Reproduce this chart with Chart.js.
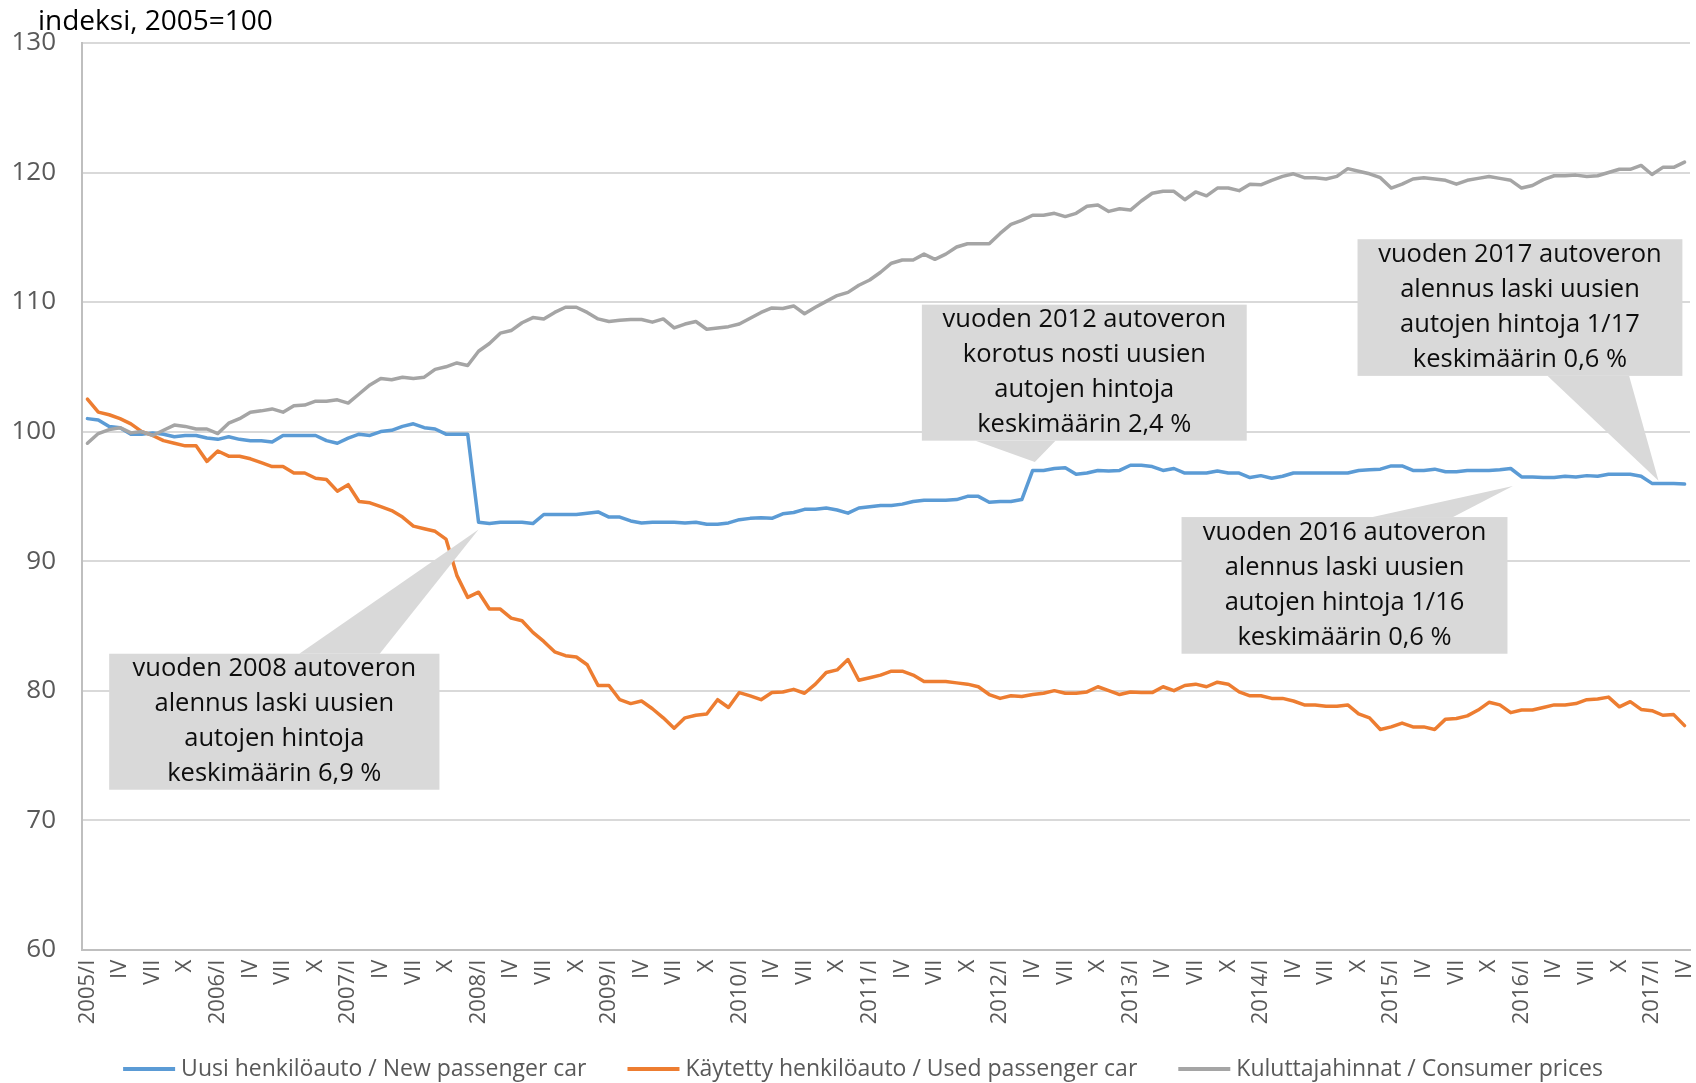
<!DOCTYPE html>
<html>
<head>
<meta charset="utf-8">
<script src="https://cdn.jsdelivr.net/npm/chart.js"></script>
<style>
  body { margin: 0; background: #fff; }
  #wrap { width: 1696px; height: 1083px; }
</style>
</head>
<body>
<div id="wrap"><canvas id="hinnat" width="1696" height="1083"></canvas></div>
<script>
// kuukausisarja 2005/I - 2017/IV
const vuodet = [2005, 2006, 2007, 2008, 2009, 2010, 2011, 2012, 2013, 2014, 2015, 2016, 2017];
const kuukaudet = ['I', 'II', 'III', 'IV', 'V', 'VI', 'VII', 'VIII', 'IX', 'X', 'XI', 'XII'];
const viimeinenKk = 4; // 2017 loppuu huhtikuuhun

const uusi = [
  101.0, 100.9, 100.4, 100.3, 99.8, 99.8, 99.9, 99.8, 99.6, 99.7, 99.7, 99.5,
  99.4, 99.6, 99.4, 99.3, 99.3, 99.2, 99.7, 99.7, 99.7, 99.7, 99.3, 99.1,
  99.5, 99.8, 99.7, 100.0, 100.1, 100.4, 100.6, 100.3, 100.2, 99.8, 99.8, 99.8,
  93.0, 92.9, 93.0, 93.0, 93.0, 92.9, 93.6, 93.6, 93.6, 93.6, 93.7, 93.8,
  93.4, 93.4, 93.1, 92.95, 93.0, 93.0, 93.0, 92.95, 93.0, 92.85, 92.85, 92.95,
  93.2, 93.3, 93.35, 93.3, 93.65, 93.75, 94.0, 94.0, 94.1, 93.95, 93.7, 94.1,
  94.2, 94.3, 94.3, 94.4, 94.6, 94.7, 94.7, 94.7, 94.75, 95.0, 95.0, 94.55,
  94.6, 94.6, 94.75, 97.0, 97.0, 97.15, 97.2, 96.7, 96.8, 97.0, 96.95, 97.0,
  97.4, 97.4, 97.3, 97.0, 97.15, 96.8, 96.8, 96.8, 96.95, 96.8, 96.8, 96.45,
  96.6, 96.4, 96.55, 96.8, 96.8, 96.8, 96.8, 96.8, 96.8, 97.0, 97.05, 97.1,
  97.35, 97.35, 97.0, 97.0, 97.1, 96.9, 96.9, 97.0, 97.0, 97.0, 97.05, 97.15,
  96.5, 96.5, 96.45, 96.45, 96.55, 96.5, 96.6, 96.55, 96.7, 96.7, 96.7, 96.55,
  96.0, 96.0, 96.0, 95.95
];

const kaytetty = [
  102.5, 101.5, 101.3, 101.0, 100.6, 100.0, 99.7, 99.3, 99.1, 98.9, 98.9, 97.7,
  98.5, 98.1, 98.1, 97.9, 97.6, 97.3, 97.3, 96.8, 96.8, 96.4, 96.3, 95.4,
  95.9, 94.6, 94.5, 94.2, 93.9, 93.4, 92.7, 92.5, 92.3, 91.7, 88.9, 87.2,
  87.6, 86.3, 86.3, 85.6, 85.4, 84.5, 83.8, 83.0, 82.7, 82.6, 82.0, 80.4,
  80.4, 79.3, 79.0, 79.2, 78.6, 77.9, 77.1, 77.9, 78.1, 78.2, 79.3, 78.7,
  79.85, 79.6, 79.3, 79.85, 79.9, 80.1, 79.8, 80.5, 81.4, 81.6, 82.4, 80.8,
  81.0, 81.2, 81.5, 81.5, 81.2, 80.7, 80.7, 80.7, 80.6, 80.5, 80.3, 79.7,
  79.4, 79.6, 79.55, 79.7, 79.8, 80.0, 79.8, 79.8, 79.9, 80.3, 80.0, 79.7,
  79.9, 79.85, 79.85, 80.3, 80.0, 80.4, 80.5, 80.3, 80.65, 80.5, 79.9, 79.6,
  79.6, 79.4, 79.4, 79.2, 78.9, 78.9, 78.8, 78.8, 78.9, 78.2, 77.9, 77.0,
  77.2, 77.5, 77.2, 77.2, 77.0, 77.8, 77.85, 78.05, 78.5, 79.1, 78.9, 78.3,
  78.5, 78.5, 78.7, 78.9, 78.9, 79.0, 79.3, 79.35, 79.5, 78.75, 79.15, 78.55,
  78.45, 78.1, 78.15, 77.3
];

const kuluttaja = [
  99.1, 99.85, 100.15, 100.3, 99.9, 100.0, 99.7, 100.1, 100.5, 100.4, 100.2, 100.2,
  99.85, 100.65, 101.0, 101.5, 101.6, 101.75, 101.5, 102.0, 102.05, 102.35, 102.35, 102.45,
  102.2, 102.9, 103.6, 104.1, 104.0, 104.2, 104.1, 104.2, 104.8, 105.0, 105.3, 105.1,
  106.2, 106.8, 107.6, 107.8, 108.4, 108.8, 108.7, 109.2, 109.6, 109.6, 109.2, 108.7,
  108.5, 108.6, 108.65, 108.65, 108.45, 108.7, 108.0, 108.3, 108.5, 107.9, 108.0, 108.1,
  108.3, 108.75, 109.2, 109.55, 109.5, 109.7, 109.1, 109.6, 110.05, 110.5, 110.75, 111.3,
  111.7, 112.3, 113.0, 113.25, 113.25, 113.7, 113.3, 113.7, 114.25, 114.5, 114.5, 114.5,
  115.3, 116.0, 116.3, 116.7, 116.7, 116.85, 116.6, 116.85, 117.4, 117.5, 117.0, 117.2,
  117.1, 117.8, 118.4, 118.55, 118.55, 117.9, 118.5, 118.2, 118.8, 118.8, 118.6, 119.1,
  119.05, 119.4, 119.7, 119.9, 119.6, 119.6, 119.5, 119.7, 120.3, 120.1, 119.9, 119.6,
  118.8, 119.1, 119.5, 119.6, 119.5, 119.4, 119.1, 119.4, 119.55, 119.7, 119.55, 119.4,
  118.8, 119.0, 119.45, 119.75, 119.75, 119.8, 119.7, 119.75, 120.0, 120.25, 120.25, 120.55,
  119.85, 120.4, 120.4, 120.8
];

const sarjat = [
  'Uusi henkilöauto / New passenger car',
  'Käytetty henkilöauto / Used passenger car',
  'Kuluttajahinnat / Consumer prices'
];
const varit = ['#5B9BD5', '#ED7D31', '#A5A5A5'];

// huomautuslaatikot: x kuukausi-indekseinä, y indeksiarvoina
const huomautukset = [
  { rivit: ['vuoden 2008 autoveron', 'alennus laski uusien', 'autojen hintoja', 'keskimäärin 6,9 %'],
    x0: 2.0, x1: 32.4, yYla: 82.85, yAla: 72.35, kanta: [19.5, 26.9], karki: [36.0, 92.45] },
  { rivit: ['vuoden 2012 autoveron', 'korotus nosti uusien', 'autojen hintoja', 'keskimäärin 2,4 %'],
    x0: 76.8, x1: 106.7, yYla: 109.8, yAla: 99.3, kanta: [81.75, 89.1], karki: [87.2, 97.65] },
  { rivit: ['vuoden 2016 autoveron', 'alennus laski uusien', 'autojen hintoja 1/16', 'keskimäärin 0,6 %'],
    x0: 100.7, x1: 130.7, yYla: 93.4, yAla: 82.85, kanta: [118.3, 125.7], karki: [131.2, 95.8] },
  { rivit: ['vuoden 2017 autoveron', 'alennus laski uusien', 'autojen hintoja 1/17', 'keskimäärin 0,6 %'],
    x0: 116.9, x1: 146.8, yYla: 114.85, yAla: 104.3, kanta: [134.4, 141.9], karki: [144.6, 96.2] }
];

const otsikko = 'indeksi, 2005=100';

// kategoriat
const kategoriat = [];
vuodet.forEach(v => {
  kuukaudet.forEach((k, i) => {
    if (v === 2017 && i >= viimeinenKk) return;
    kategoriat.push(i === 0 ? v + '/' + k : k);
  });
});

Chart.defaults.font.family = '"Open Sans", sans-serif';
Chart.defaults.color = '#595959';

const piirrot = {
  id: 'piirrot',
  afterDatasetsDraw(chart) {
    const { ctx } = chart;
    const x = chart.scales.x, y = chart.scales.y;
    ctx.save();
    huomautukset.forEach(h => {
      const left = x.getPixelForValue(h.x0), right = x.getPixelForValue(h.x1);
      const top = y.getPixelForValue(h.yYla), bottom = y.getPixelForValue(h.yAla);
      ctx.fillStyle = '#D9D9D9';
      ctx.fillRect(left, top, right - left, bottom - top);
      // kärki
      const reuna = h.karki[1] > h.yYla ? top : bottom;
      ctx.beginPath();
      ctx.moveTo(x.getPixelForValue(h.kanta[0]), reuna);
      ctx.lineTo(x.getPixelForValue(h.karki[0]), y.getPixelForValue(h.karki[1]));
      ctx.lineTo(x.getPixelForValue(h.kanta[1]), reuna);
      ctx.closePath();
      ctx.fill();
      // teksti
      ctx.fillStyle = '#0D0D0D';
      ctx.font = '500 25.5px "Open Sans"';
      ctx.textAlign = 'center';
      ctx.textBaseline = 'middle';
      const kesk = (top + bottom) / 2, rivi = 35;
      h.rivit.forEach((t, i) => {
        ctx.fillText(t, (left + right) / 2, kesk + (i - (h.rivit.length - 1) / 2) * rivi);
      });
    });
    ctx.restore();
  },
  afterDraw(chart) {
    const { ctx } = chart;
    ctx.save();
    ctx.fillStyle = '#000';
    ctx.font = '500 28px "Open Sans"';
    ctx.textAlign = 'left';
    ctx.textBaseline = 'middle';
    ctx.fillText(otsikko, 38, 22);

    // selite alhaalla
    ctx.font = '500 23px "Open Sans"';
    const viiva = 52, rako = 6, vali = 41;
    const leveydet = chart.data.datasets.map(d => ctx.measureText(d.label).width);
    const yht = leveydet.reduce((a, b) => a + b + viiva + rako, 0) + vali * (leveydet.length - 1);
    let px = 863 - yht / 2;
    const py = 1069;
    chart.data.datasets.forEach((d, i) => {
      ctx.strokeStyle = d.borderColor;
      ctx.lineWidth = 4;
      ctx.beginPath();
      ctx.moveTo(px, py);
      ctx.lineTo(px + viiva, py);
      ctx.stroke();
      ctx.fillStyle = '#595959';
      ctx.fillText(d.label, px + viiva + rako, py);
      px += viiva + rako + leveydet[i] + vali;
    });
    ctx.restore();
  }
};

new Chart(document.getElementById('hinnat'), {
  type: 'line',
  data: {
    labels: kategoriat,
    datasets: [uusi, kaytetty, kuluttaja].map((arvot, i) => ({
      label: sarjat[i],
      data: arvot,
      borderColor: varit[i],
      backgroundColor: varit[i],
      borderWidth: 3.5,
      pointRadius: 0,
      tension: 0,
      borderJoinStyle: 'round',
      borderCapStyle: 'round',
      order: 2 - i
    }))
  },
  options: {
    responsive: false,
    devicePixelRatio: 1,
    animation: false,
    layout: { padding: { top: 43, right: 6, bottom: 0, left: 0 } },
    plugins: {
      legend: { display: false },
      tooltip: { enabled: false }
    },
    scales: {
      x: {
        offset: true,
        grid: { display: false, drawTicks: false },
        border: { display: true, color: '#BFBFBF', width: 2 },
        ticks: {
          autoSkip: false,
          maxRotation: 90,
          minRotation: 90,
          padding: 10,
          font: { size: 22 },
          color: '#595959',
          callback: function (val, i) { return i % 3 === 0 ? this.getLabelForValue(val) : ''; }
        },
        afterFit: s => { s.height = 133.3; s.paddingLeft = 0; s.paddingRight = 0; }
      },
      y: {
        min: 60,
        max: 130,
        ticks: { stepSize: 10, padding: 26, font: { size: 26 }, color: '#595959' },
        grid: { color: '#D9D9D9', lineWidth: 2, drawTicks: false },
        border: { display: true, color: '#BFBFBF', width: 2 },
        afterFit: s => { s.width = 82; s.paddingTop = 0; s.paddingBottom = 0; }
      }
    }
  },
  plugins: [piirrot]
});
</script>
</body>
</html>
